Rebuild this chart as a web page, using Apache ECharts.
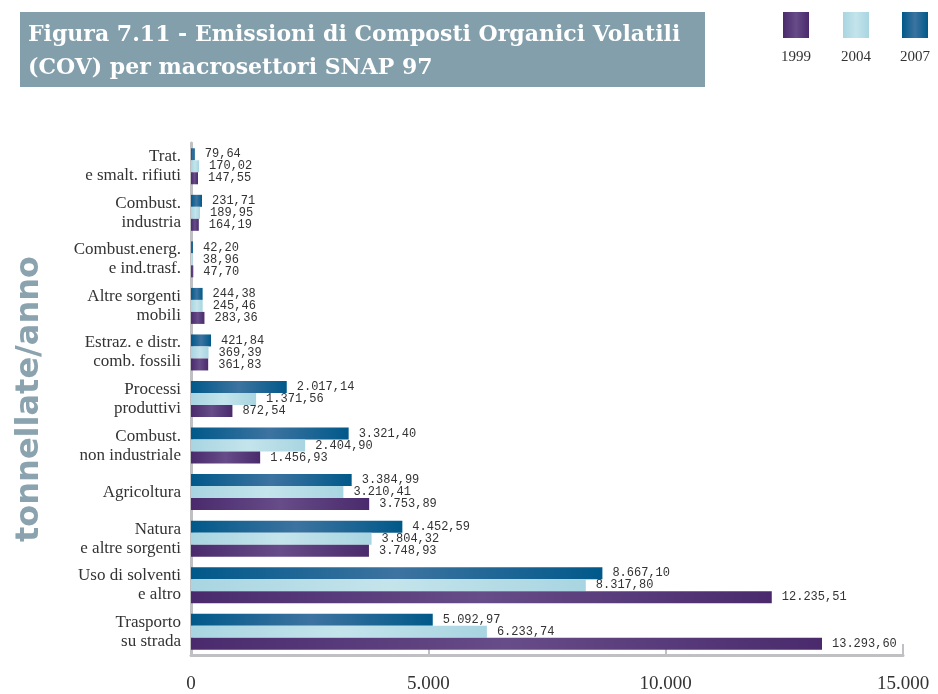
<!DOCTYPE html>
<html>
<head>
<meta charset="utf-8">
<script src="https://cdn.jsdelivr.net/npm/echarts@6/dist/echarts.min.js"></script>
<style>
  html, body { margin: 0; padding: 0; background: #fff; }
  #container { width: 938px; height: 694px; }
</style>
</head>
<body>
<div id="container"></div>
<script>
var dom = document.getElementById("container");
var myChart = echarts.init(dom);

// categories, top to bottom
var categories = [
    'Trat.\ne smalt. rifiuti',
    'Combust.\nindustria',
    'Combust.energ.\ne ind.trasf.',
    'Altre sorgenti\nmobili',
    'Estraz. e distr.\ncomb. fossili',
    'Processi\nproduttivi',
    'Combust.\nnon industriale',
    'Agricoltura',
    'Natura\ne altre sorgenti',
    'Uso di solventi\ne altro',
    'Trasporto\nsu strada'
];
var years = ['1999', '2004', '2007'];
var data1999 = [147.55, 164.19, 47.70, 283.36, 361.83, 872.54, 1456.93, 3753.89, 3748.93, 12235.51, 13293.60];
var data2004 = [170.02, 189.95, 38.96, 245.46, 369.39, 1371.56, 2404.90, 3210.41, 3804.32, 8317.80, 6233.74];
var data2007 = [79.64, 231.71, 42.20, 244.38, 421.84, 2017.14, 3321.40, 3384.99, 4452.59, 8667.10, 5092.97];

function fmtIt(v, dec) {
    var parts = v.toFixed(dec).split('.');
    var intPart = parts[0].replace(/\B(?=(\d{3})+(?!\d))/g, '.');
    return parts.length > 1 ? intPart + ',' + parts[1] : intPart;
}

function grad(c1, c2) {
    return new echarts.graphic.LinearGradient(0, 0, 1, 0, [
        { offset: 0, color: c1 },
        { offset: 0.5, color: c2 },
        { offset: 1, color: c1 }
    ]);
}

var colors = {
    '1999': grad('#4a2a6c', '#664c88'),
    '2004': grad('#a8d5e1', '#c4e4eb'),
    '2007': grad('#00598a', '#3d73a0')
};
var legendColors = { '1999': '#5d4284', '2004': '#b0dbe4', '2007': '#0a5e8e' };
var legendLeft = [783, 843, 902];

function makeSeries(name, values) {
    return {
        name: name,
        type: 'bar',
        data: values,
        barWidth: 12,
        barGap: '0%',
        color: legendColors[name],
        itemStyle: { color: colors[name] },
        label: {
            show: true,
            position: 'right',
            distance: 10,
            fontFamily: 'Liberation Mono',
            fontSize: 12,
            color: '#333',
            formatter: function (p) { return fmtIt(p.value, 2); }
        }
    };
}

// one legend per year: square icon only, year written underneath
var legends = years.map(function (y, i) {
    return {
        data: [y],
        left: legendLeft[i],
        top: 12,
        icon: 'rect',
        itemWidth: 26,
        itemHeight: 26,
        padding: 0,
        formatter: function () { return ''; }
    };
});
var legendTexts = years.map(function (y, i) {
    return {
        type: 'text',
        x: legendLeft[i] + 13,
        y: 57,
        style: {
            text: y,
            align: 'center',
            verticalAlign: 'middle',
            fontFamily: 'Liberation Serif',
            fontSize: 15,
            fill: '#333'
        }
    };
});

option = {
    animation: false,
    graphic: [{
        type: 'rect',
        z: 0,
        shape: { x: 20, y: 12, width: 685, height: 75 },
        style: { fill: '#829fab' }
    }].concat(legendTexts),
    title: {
        z: 10,
        left: 28,
        top: 19,
        padding: 0,
        text: '{a|Figura 7.11 - }{b|Emissioni di Composti Organici Volatili}\n{b|(COV) per macrosettori SNAP 97}',
        textStyle: {
            rich: {
                a: { fontFamily: 'DejaVu Serif', fontSize: 22, color: '#fff', lineHeight: 33 },
                b: { fontFamily: 'DejaVu Serif', fontSize: 22, fontWeight: 'bold', color: '#fff', lineHeight: 33 }
            }
        }
    },
    legend: legends,
    grid: { left: 191, right: 35, top: 143, bottom: 38 },
    xAxis: {
        type: 'value',
        min: 0,
        max: 15000,
        interval: 5000,
        splitLine: { show: false },
        axisLine: { show: true, lineStyle: { color: '#c0c0c4', width: 3 } },
        axisTick: { show: true, inside: true, length: 11, lineStyle: { color: '#c0c0c4', width: 2 } },
        axisLabel: {
            margin: 20,
            fontFamily: 'Liberation Serif',
            fontSize: 19,
            color: '#333',
            formatter: function (v) { return fmtIt(v, 0); }
        }
    },
    yAxis: {
        type: 'category',
        data: categories,
        inverse: true,
        name: 'tonnellate/anno',
        nameLocation: 'middle',
        nameRotate: 90,
        nameGap: 145,
        nameTextStyle: {
            fontFamily: 'DejaVu Sans',
            fontSize: 32,
            fontWeight: 'bold',
            color: '#8aa3ae'
        },
        axisLine: { show: true, lineStyle: { color: '#c0c0c4', width: 3 } },
        axisTick: { show: false },
        axisLabel: {
            margin: 10,
            fontFamily: 'Liberation Serif',
            fontSize: 17,
            lineHeight: 19,
            color: '#333'
        }
    },
    series: [
        makeSeries('2007', data2007),
        makeSeries('2004', data2004),
        makeSeries('1999', data1999)
    ]
};

if (option && typeof option === "object") {
    myChart.setOption(option, false);
}
</script>
</body>
</html>
